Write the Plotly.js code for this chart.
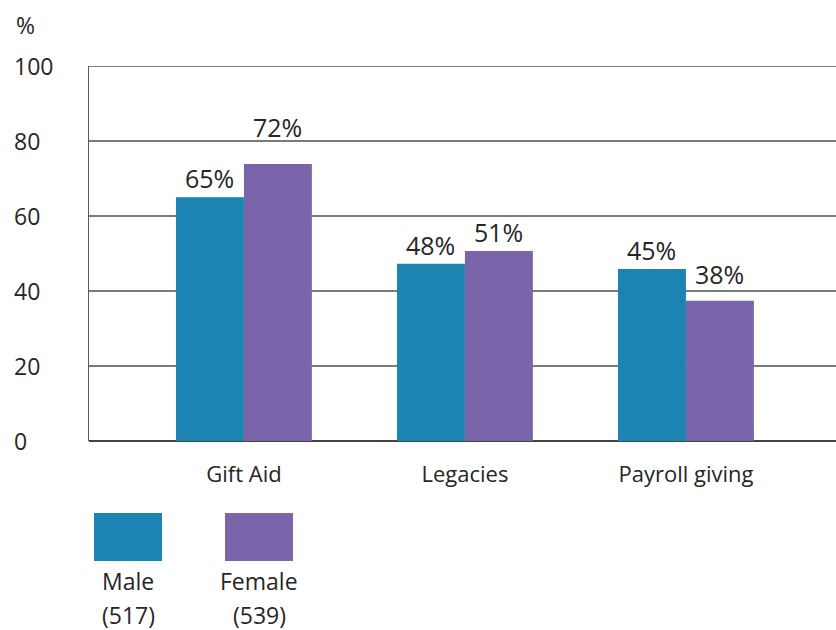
<!DOCTYPE html>
<html>
<head>
<meta charset="utf-8">
<script src="https://cdn.plot.ly/plotly-3.0.1.min.js"></script>
<style>html,body{margin:0;padding:0;background:#fff;}#chart{width:836px;height:630px;}</style>
</head>
<body>
<div id="chart"></div>
<script>
const categories = ["Gift Aid", "Legacies", "Payroll giving"];
const maleValues = [65, 47.3, 45.9];
const femaleValues = [73.9, 50.7, 37.4];
const maleLabels = ["65%", "48%", "45%"];
const femaleLabels = ["72%", "51%", "38%"];
const seriesNames = ["Male", "Female"];
const seriesCounts = ["(517)", "(539)"];
const yTicks = [0, 20, 40, 60, 80, 100];

const MALE_COLOR = "#1b84b2";
const FEMALE_COLOR = "#7b65aa";
const TEXT_COLOR = "#262626";
const FONT = "Open Sans, Noto Sans, sans-serif";

// style: extra vertical offset (px) of value labels, per series
const maleLabelShift = [0, 0, 0];
const femaleLabelShift = [18, 0, 8];

// plot area in pixels
const L = 89, R = 836, T = 66, B = 441;
const W = R - L, H = B - T;
const px = x => (x - L) / W;
const py = y => (B - y) / H;

const traces = [
  {type: "bar", x: categories, y: maleValues, name: seriesNames[0], offsetgroup: "m",
   marker: {color: MALE_COLOR, line: {width: 0}}, hoverinfo: "skip"},
  {type: "bar", x: categories, y: femaleValues, name: seriesNames[1], offsetgroup: "f",
   marker: {color: FEMALE_COLOR, line: {width: 0}}, hoverinfo: "skip"}
];

const annotations = [];
// value labels, placed at the bar top through the axes
const BAR_HALF = 0.1537; // half-width of one bar in category units
categories.forEach((c, i) => {
  annotations.push({xref: "x", yref: "y", x: i - BAR_HALF, y: maleValues[i], xanchor: "center", yanchor: "bottom",
    yshift: 0 + maleLabelShift[i], text: maleLabels[i], showarrow: false,
    font: {family: FONT, size: 25, color: TEXT_COLOR}});
  annotations.push({xref: "x", yref: "y", x: i + BAR_HALF, y: femaleValues[i], xanchor: "center", yanchor: "bottom",
    yshift: 0 + femaleLabelShift[i], text: femaleLabels[i], showarrow: false,
    font: {family: FONT, size: 25, color: TEXT_COLOR}});
});

yTicks.forEach(v => annotations.push({
  xref: "paper", yref: "y", x: px(12), y: v, xanchor: "left", yanchor: "middle",
  text: String(v), showarrow: false, font: {family: FONT, size: 23, color: TEXT_COLOR}
}));
annotations.push({xref: "paper", yref: "paper", x: px(14), y: py(25), xanchor: "left", yanchor: "middle",
  text: "%", showarrow: false, font: {family: FONT, size: 23, color: TEXT_COLOR}});

const legendBoxes = [[94, 162], [225, 293]];
const legendColors = [MALE_COLOR, FEMALE_COLOR];
const shapes = [
  {type: "line", xref: "paper", yref: "y", x0: 0, x1: 1, y0: yTicks[yTicks.length - 1], y1: yTicks[yTicks.length - 1],
   line: {color: "#555555", width: 1.5}, layer: "below"}
];
legendBoxes.forEach((b, i) => {
  shapes.push({type: "rect", xref: "paper", yref: "paper", x0: px(b[0]), x1: px(b[1]),
    y0: py(561), y1: py(513), fillcolor: legendColors[i], line: {width: 0}});
  const cx = px((b[0] + b[1]) / 2);
  annotations.push({xref: "paper", yref: "paper", x: cx, y: py(581), xanchor: "center", yanchor: "middle",
    text: seriesNames[i], showarrow: false, font: {family: FONT, size: 23, color: TEXT_COLOR}});
  annotations.push({xref: "paper", yref: "paper", x: cx, y: py(615), xanchor: "center", yanchor: "middle",
    text: seriesCounts[i], showarrow: false, font: {family: FONT, size: 23, color: TEXT_COLOR}});
});

const layout = {
  width: 836, height: 630,
  margin: {l: L, r: 836 - R, t: T, b: 630 - B, pad: 0},
  paper_bgcolor: "#ffffff", plot_bgcolor: "#ffffff",
  showlegend: false,
  barmode: "group", bargap: 0.385, bargroupgap: 0,
  font: {family: FONT, color: TEXT_COLOR},
  xaxis: {type: "category", range: [-0.701, 2.679], showgrid: false, zeroline: false,
    showline: false, ticks: "outside", ticklen: 14, tickcolor: "rgba(0,0,0,0)",
    tickfont: {family: FONT, size: 22, color: TEXT_COLOR}, fixedrange: true},
  yaxis: {range: [0, 100], tickvals: yTicks, showticklabels: false, ticks: "",
    showgrid: true, gridcolor: "#7a7a7a", gridwidth: 1.2,
    zeroline: true, zerolinecolor: "#444444", zerolinewidth: 1.5,
    showline: true, linecolor: "#5a5a5a", linewidth: 1.5, mirror: false, fixedrange: true},
  shapes: shapes,
  annotations: annotations
};

Plotly.newPlot("chart", traces, layout, {displayModeBar: false, staticPlot: true});
</script>
</body>
</html>
